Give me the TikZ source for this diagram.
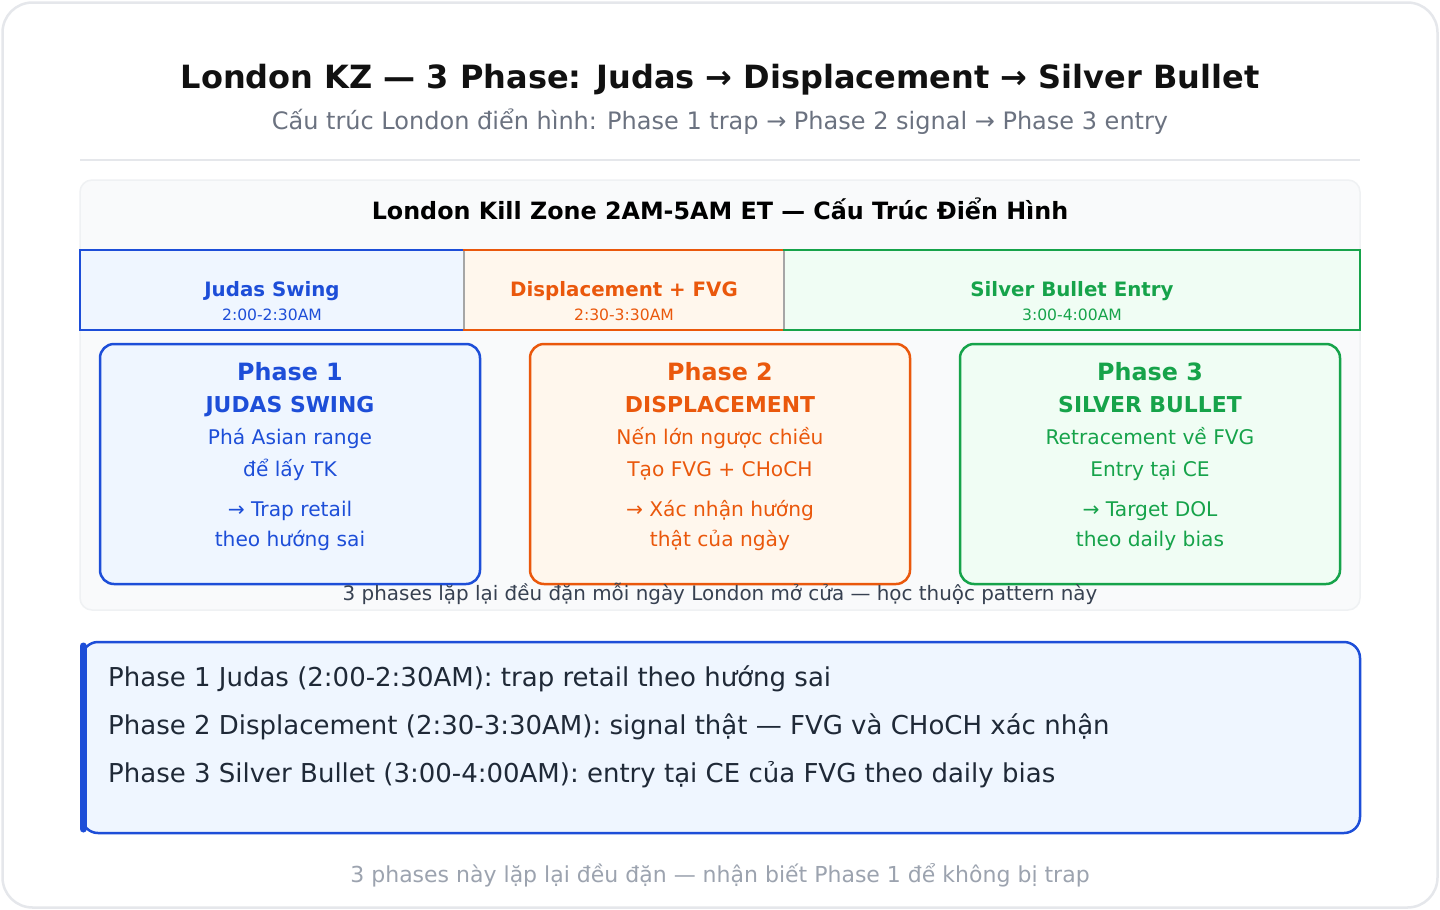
\documentclass[tikz,border=0pt]{standalone}
\usepackage{fontspec}
\setmainfont{DejaVu Sans}
\usetikzlibrary{positioning}
\definecolor{cblue}{HTML}{1D4ED8}
\definecolor{cbluefill}{HTML}{EFF6FF}
\definecolor{corange}{HTML}{EA580C}
\definecolor{corangefill}{HTML}{FFF7ED}
\definecolor{cgreen}{HTML}{16A34A}
\definecolor{cgreenfill}{HTML}{F0FDF4}
\definecolor{cdark}{HTML}{111111}
\definecolor{cgray}{HTML}{6B7280}
\definecolor{clight}{HTML}{9CA3AF}
\definecolor{cborder}{HTML}{E5E7EB}
\definecolor{cpanel}{HTML}{F9FAFB}
\definecolor{ctext}{HTML}{1F2937}
\definecolor{ccap}{HTML}{374151}
\newcommand{\fs}[1]{\fontsize{#1}{#1}\selectfont}
\tikzset{
  txt/.style={inner sep=0pt, anchor=base},
  bar/.style={draw=#1, line width=2.5pt},
  phasebox/.style={draw=#1, line width=2.5pt, rounded corners=14pt},
}
\begin{document}
\begin{tikzpicture}[x=1pt,y=-1pt]
\useasboundingbox (0,0) rectangle (1440,910);
% outer card
\node[draw=cborder, fill=white, line width=2.5pt, rounded corners=30pt, minimum width=1435pt, minimum height=905pt, inner sep=0pt] (card) at (720,455) {};
% title
\node[txt, text=cdark] (title) at (720,88) {\fs{32}\bfseries London KZ — 3 Phase: Judas → Displacement → Silver Bullet};
\node[txt, text=cgray] (subtitle) at (720,129) {\fs{24}Cấu trúc London điển hình: Phase 1 trap → Phase 2 signal → Phase 3 entry};
\draw[cborder, line width=2pt] (80,160) -- (1360,160);
% panel
\filldraw[fill=cpanel, draw=cborder!60, line width=1.5pt, rounded corners=12pt] (80,180) rectangle (1360,610);
\node[txt, text=black] (ptitle) at (720,219) {\fs{23.8}\bfseries London Kill Zone 2AM-5AM ET — Cấu Trúc Điển Hình};
% timeline bars
\filldraw[bar=cblue, fill=cbluefill] (80,250) rectangle (464,330);
\filldraw[bar=corange, fill=corangefill] (464,250) rectangle (784,330);
\filldraw[bar=cgreen, fill=cgreenfill] (784,250) rectangle (1360,330);
\draw[gray!70, line width=2pt] (464,251) -- (464,329);
\draw[gray!70, line width=2pt] (784,251) -- (784,329);
\node[txt, text=cblue] (b1) at (272,296) {\fs{19.8}\bfseries Judas Swing};
\node[txt, text=cblue] (b1t) at (272,320) {\fs{15.6}2:00-2:30AM};
\node[txt, text=corange] (b2) at (624,296) {\fs{19.8}\bfseries Displacement + FVG};
\node[txt, text=corange] (b2t) at (624,320) {\fs{15.6}2:30-3:30AM};
\node[txt, text=cgreen] (b3) at (1072,296) {\fs{19.8}\bfseries Silver Bullet Entry};
\node[txt, text=cgreen] (b3t) at (1072,320) {\fs{15.6}3:00-4:00AM};
% phase boxes
\filldraw[phasebox=cblue, fill=cbluefill] (100,344) rectangle (480,584);
\filldraw[phasebox=corange, fill=corangefill] (530,344) rectangle (910,584);
\filldraw[phasebox=cgreen, fill=cgreenfill] (960,344) rectangle (1340,584);
% phase 1 text
\node[txt, text=cblue] (p1a) at (290,380) {\fs{23.8}\bfseries Phase 1};
\node[txt, text=cblue] (p1b) at (290,412) {\fs{21.9}\bfseries JUDAS SWING};
\node[txt, text=cblue] (p1c) at (290,444) {\fs{20.2}Phá Asian range};
\node[txt, text=cblue] (p1d) at (290,476) {\fs{20.2}để lấy TK};
\node[txt, text=cblue] (p1e) at (290,516) {\fs{20.2}→ Trap retail};
\node[txt, text=cblue] (p1f) at (290,546) {\fs{20.2}theo hướng sai};
% phase 2 text
\node[txt, text=corange] (p2a) at (720,380) {\fs{23.8}\bfseries Phase 2};
\node[txt, text=corange] (p2b) at (720,412) {\fs{21.9}\bfseries DISPLACEMENT};
\node[txt, text=corange] (p2c) at (720,444) {\fs{20.2}Nến lớn ngược chiều};
\node[txt, text=corange] (p2d) at (720,476) {\fs{20.2}Tạo FVG + CHoCH};
\node[txt, text=corange] (p2e) at (720,516) {\fs{20.2}→ Xác nhận hướng};
\node[txt, text=corange] (p2f) at (720,546) {\fs{20.2}thật của ngày};
% phase 3 text
\node[txt, text=cgreen] (p3a) at (1150,380) {\fs{23.8}\bfseries Phase 3};
\node[txt, text=cgreen] (p3b) at (1150,412) {\fs{21.9}\bfseries SILVER BULLET};
\node[txt, text=cgreen] (p3c) at (1150,444) {\fs{20.2}Retracement về FVG};
\node[txt, text=cgreen] (p3d) at (1150,476) {\fs{20.2}Entry tại CE};
\node[txt, text=cgreen] (p3e) at (1150,516) {\fs{20.2}→ Target DOL};
\node[txt, text=cgreen] (p3f) at (1150,546) {\fs{20.2}theo daily bias};
% caption
\node[txt, text=ccap] (cap) at (720,600) {\fs{19.9}3 phases lặp lại đều đặn mỗi ngày London mở cửa — học thuộc pattern này};
% bottom box
\filldraw[draw=cblue, fill=cbluefill, line width=2.5pt, rounded corners=16pt] (82,642) rectangle (1360,833);
\draw[cblue, line width=7pt, line cap=round] (83,646) -- (83,829);
\node[txt, text=ctext, anchor=base west] (l1) at (108,686) {\fs{26}Phase 1 Judas (2:00-2:30AM): trap retail theo hướng sai};
\node[txt, text=ctext, anchor=base west] (l2) at (108,734) {\fs{26}Phase 2 Displacement (2:30-3:30AM): signal thật — FVG và CHoCH xác nhận};
\node[txt, text=ctext, anchor=base west] (l3) at (108,782) {\fs{26}Phase 3 Silver Bullet (3:00-4:00AM): entry tại CE của FVG theo daily bias};
% footer
\node[txt, text=clight] (foot) at (720,882) {\fs{22}3 phases này lặp lại đều đặn — nhận biết Phase 1 để không bị trap};
\end{tikzpicture}
\end{document}
